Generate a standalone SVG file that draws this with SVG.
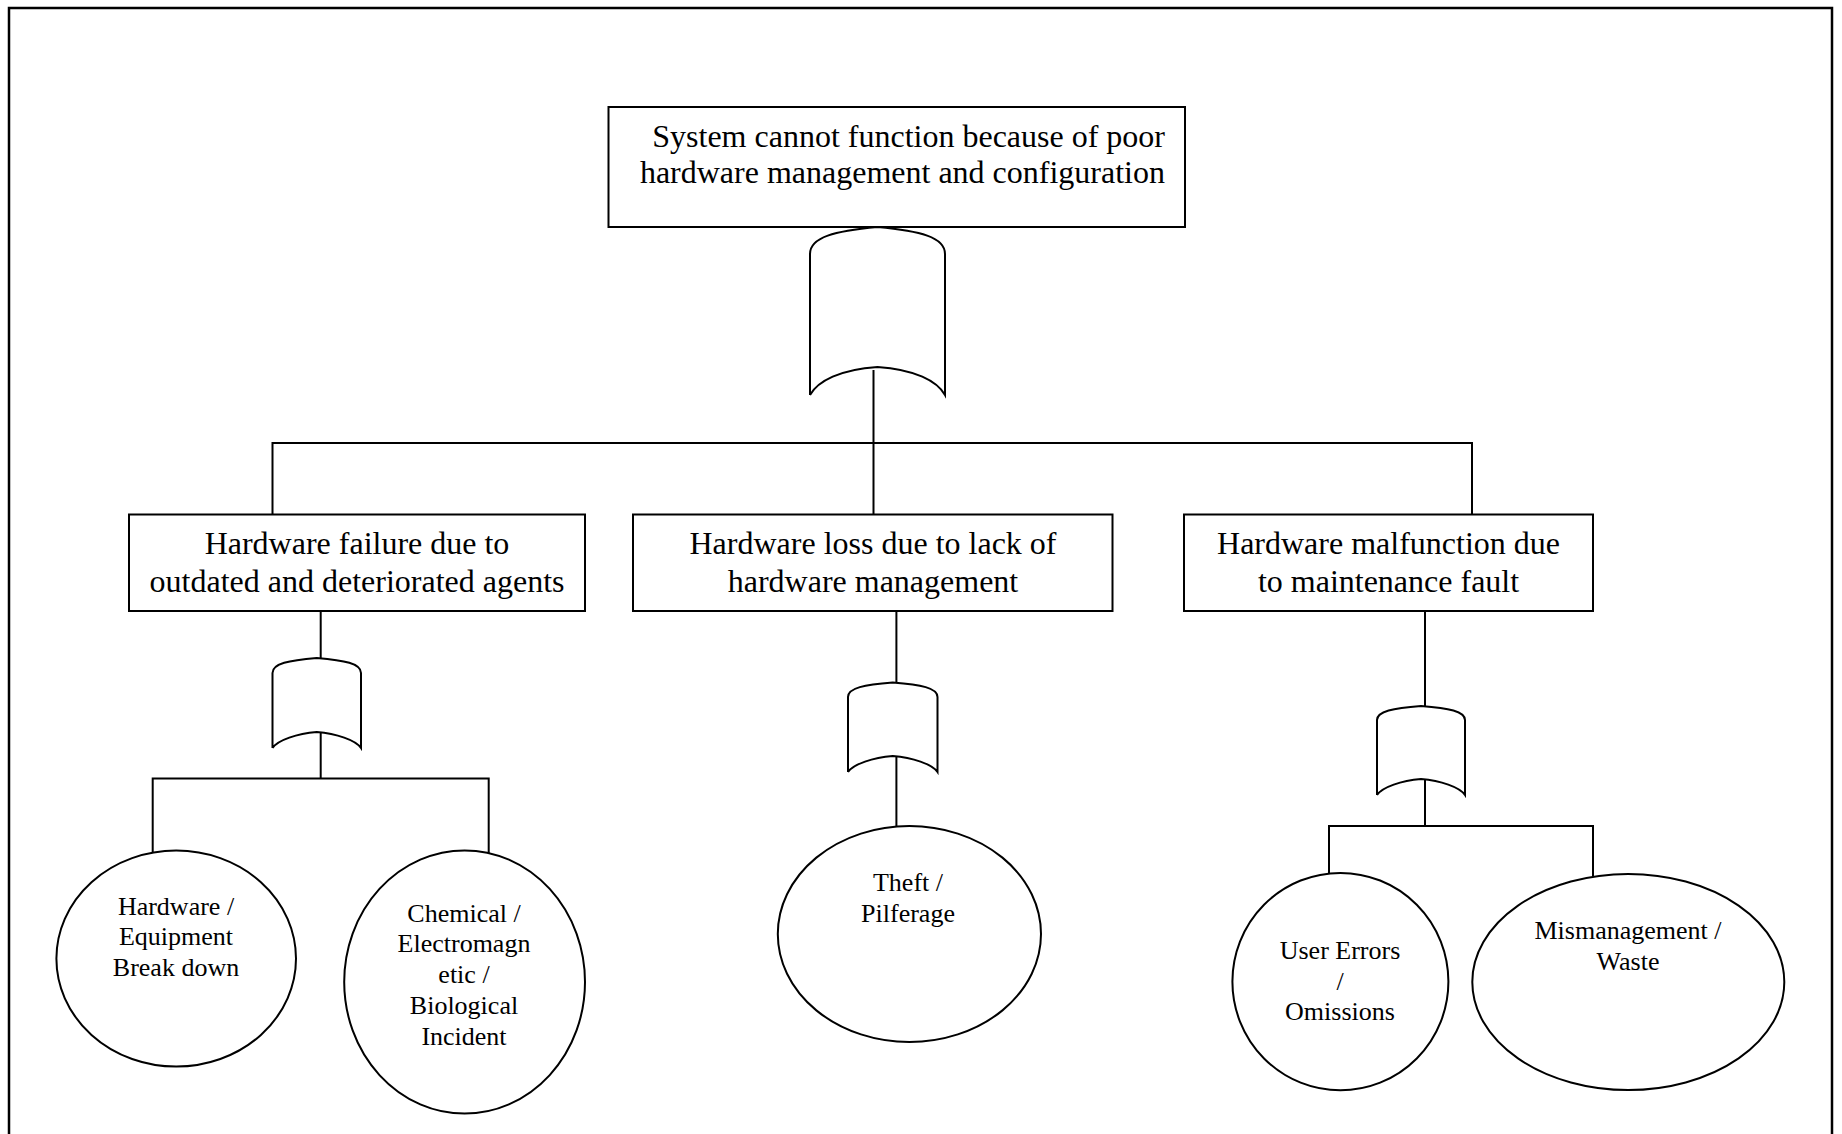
<svg xmlns="http://www.w3.org/2000/svg" width="1842" height="1134" viewBox="0 0 1842 1134">
<style>
.frame{fill:none;stroke:#000;stroke-width:2.5}
.box{fill:#fff;stroke:#000;stroke-width:2}
.gate{fill:#fff;stroke:#000;stroke-width:2;stroke-linejoin:miter}
.ell{fill:#fff;stroke:#000;stroke-width:2}
.conn{fill:none;stroke:#000;stroke-width:2}
.t32{font-family:"Liberation Serif","Times New Roman",serif;font-size:32px;fill:#000}
.t26{font-family:"Liberation Serif","Times New Roman",serif;font-size:26px;fill:#000;text-anchor:middle}
.mid{text-anchor:middle}
</style>
<rect width="1842" height="1134" fill="#fff"/>
<rect class="frame" x="9" y="8" width="1823" height="1150"/>

<g id="connectors">
  <line class="conn" x1="873.5" y1="370" x2="873.5" y2="443"/>
  <polyline class="conn" points="272.5,514.5 272.5,443 1472,443 1472,514.5"/>
  <line class="conn" x1="873.5" y1="443" x2="873.5" y2="514.5"/>
  <line class="conn" x1="320.7" y1="611" x2="320.7" y2="658"/>
  <line class="conn" x1="320.7" y1="732" x2="320.7" y2="778.5"/>
  <polyline class="conn" points="152.7,852.5 152.7,778.5 488.7,778.5 488.7,853"/>
  <line class="conn" x1="896.4" y1="611" x2="896.4" y2="682.5"/>
  <line class="conn" x1="896.4" y1="756" x2="896.4" y2="826.5"/>
  <line class="conn" x1="1425" y1="611" x2="1425" y2="706"/>
  <line class="conn" x1="1425" y1="779" x2="1425" y2="826"/>
  <polyline class="conn" points="1329,873.5 1329,826 1593,826 1593,876.5"/>
</g>

<g id="top-event">
  <rect class="box" x="608.5" y="107" width="576.5" height="120"/>
  <text class="t32" x="1165" y="147" text-anchor="end">System cannot function because of poor</text>
  <text class="t32" x="1165" y="183" text-anchor="end">hardware management and configuration</text>
</g>

<g id="gate-top">
  <path class="gate" d="M810,395 L810,254 C810,237 835,231 877.5,227 C920,231 945,237 945,254 L945,395 C937,381 915,369.5 877.5,367 C840,369.5 818,381 810,395"/>
</g>

<g id="event-failure">
  <rect class="box" x="129" y="514.5" width="456" height="96.5"/>
  <text class="t32 mid" x="357" y="554">Hardware failure due to</text>
  <text class="t32 mid" x="357" y="592">outdated and deteriorated agents</text>
</g>

<g id="event-loss">
  <rect class="box" x="633" y="514.5" width="479.5" height="96.5"/>
  <text class="t32 mid" x="873" y="554">Hardware loss due to lack of</text>
  <text class="t32 mid" x="873" y="592">hardware management</text>
</g>

<g id="event-malfunction">
  <rect class="box" x="1184" y="514.5" width="409" height="96.5"/>
  <text class="t32 mid" x="1388.5" y="554">Hardware malfunction due</text>
  <text class="t32 mid" x="1388.5" y="592">to maintenance fault</text>
</g>

<g id="gate-failure">
  <path class="gate" d="M272.5,748 L272.5,673 C272.5,663.5 288.9,660.3 316.75,658 C344.6,660.3 361,663.5 361,673 L361,748 C355.7,740 336.2,733.6 316.75,732 C297.3,733.6 277.8,740 272.5,748"/>
</g>
<g id="gate-loss">
  <path class="gate" d="M848,772 L848,697 C848,687.9 864.6,684.7 892.75,682.5 C920.9,684.7 937.5,687.9 937.5,697 L937.5,772 C932.1,764 912.4,757.6 892.75,756 C873.1,757.6 853.4,764 848,772"/>
</g>
<g id="gate-malfunction">
  <path class="gate" d="M1377,795 L1377,720 C1377,711.2 1393.3,708.1 1421,706 C1448.7,708.1 1465,711.2 1465,720 L1465,795 C1459.7,787 1440.4,780.6 1421,779 C1401.6,780.6 1382.3,787 1377,795"/>
</g>

<g id="basic-breakdown">
  <ellipse class="ell" cx="176.2" cy="958.6" rx="119.8" ry="108"/>
  <text class="t26" x="176" y="915">Hardware /</text>
  <text class="t26" x="176" y="945">Equipment</text>
  <text class="t26" x="176" y="976">Break down</text>
</g>

<g id="basic-chemical">
  <ellipse class="ell" cx="464.6" cy="982" rx="120.4" ry="131.6"/>
  <text class="t26" x="464" y="922">Chemical /</text>
  <text class="t26" x="464" y="952">Electromagn</text>
  <text class="t26" x="464" y="983">etic /</text>
  <text class="t26" x="464" y="1014">Biological</text>
  <text class="t26" x="464" y="1045">Incident</text>
</g>

<g id="basic-theft">
  <ellipse class="ell" cx="909.4" cy="934" rx="131.6" ry="108"/>
  <text class="t26" x="908" y="891">Theft /</text>
  <text class="t26" x="908" y="922">Pilferage</text>
</g>

<g id="basic-user-errors">
  <ellipse class="ell" cx="1340.4" cy="981.6" rx="108" ry="108.7"/>
  <text class="t26" x="1340" y="959">User Errors</text>
  <text class="t26" x="1340" y="990">/</text>
  <text class="t26" x="1340" y="1020">Omissions</text>
</g>

<g id="basic-mismanagement">
  <ellipse class="ell" cx="1628.3" cy="982" rx="156" ry="108"/>
  <text class="t26" x="1628" y="939">Mismanagement /</text>
  <text class="t26" x="1628" y="970">Waste</text>
</g>
</svg>
